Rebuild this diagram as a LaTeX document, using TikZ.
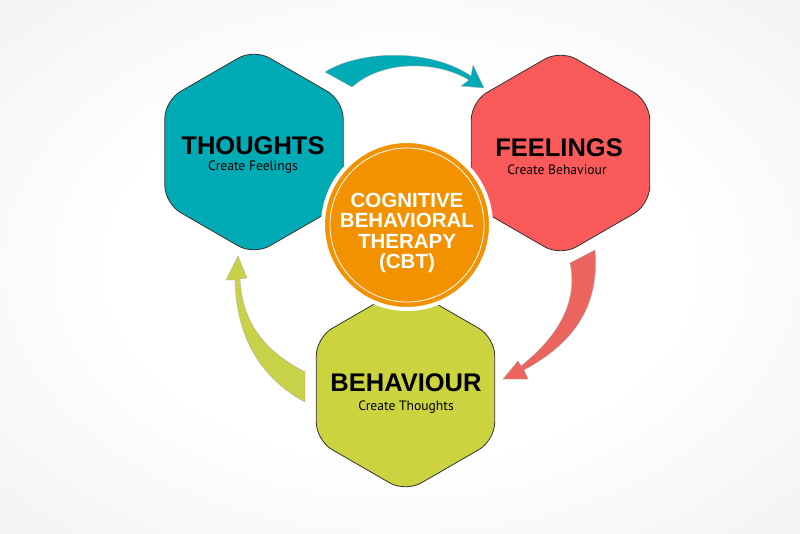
\documentclass[tikz,border=0pt]{standalone}
\usepackage{fontspec}
\setmainfont{Liberation Sans}
\newfontfamily\subfont{PT Sans}
\usetikzlibrary{shapes.geometric}
\definecolor{bgout}{RGB}{230,230,230}
\definecolor{tealc}{RGB}{0,171,181}
\definecolor{feelc}{RGB}{250,90,90}
\definecolor{feelarrow}{RGB}{236,100,94}
\definecolor{behc}{RGB}{203,212,62}
\definecolor{behlarrow}{RGB}{200,210,72}
\definecolor{orangec}{RGB}{243,146,0}
\definecolor{hexline}{RGB}{50,50,50}
\pgfdeclareradialshading{bgshade}{\pgfpoint{0bp}{0bp}}{color(0bp)=(white); color(18bp)=(white); color(55bp)=(bgout); color(75bp)=(bgout)}
\tikzset{
  hexbox/.style={regular polygon, regular polygon sides=6, shape border rotate=90,
    minimum size=206pt, inner sep=0pt, outer sep=0pt, draw=hexline, line width=0.8pt,
    rounded corners=18pt},
  bandarrow/.style={draw=black!35, line width=0.3pt},
  titletext/.style={font=\fontsize{25.5}{27}\selectfont\bfseries, text=black, inner sep=0pt},
  subtext/.style={font=\subfont\fontsize{13.6}{15}\selectfont, text=black, inner sep=0pt},
}
\begin{document}
\begin{tikzpicture}[x=1pt,y=-1pt]
\useasboundingbox (0,0) rectangle (800,533);
\shade[shading=bgshade] (0,0) rectangle (800,533);
% arrows
\fill[tealc, bandarrow] (325,72) .. controls (360,50) and (430,48) .. (471,76)
  -- (473,65) -- (484,88) -- (461,86) -- (469,80)
  .. controls (440,62) and (385,58) .. (352,87) -- cycle;
\fill[feelarrow, bandarrow] (595,250) .. controls (600,310) and (570,345) .. (524,370)
  -- (528,379) -- (503,379) -- (518,361) -- (521,366)
  .. controls (560,335) and (578,300) .. (570,263) -- cycle;
\fill[behlarrow, bandarrow] (305,402) .. controls (255,375) and (236,330) .. (235,280)
  -- (226,280) -- (238,256) -- (247,278) -- (240,279)
  .. controls (242,320) and (262,350) .. (305,372) -- cycle;
% hexagons
\node[hexbox, fill=tealc] (thoughts) at (254,152) {};
\node[hexbox, fill=feelc] (feelings) at (560.5,153) {};
\node[hexbox, fill=behc] (behaviour) at (405.5,389) {};
\node[titletext] (thoughtsT) at (253,146) {THOUGHTS};
\node[subtext] (thoughtsS) at (253,167.5) {Create Feelings};
\node[titletext] (feelingsT) at (559,147.5) {FEELINGS};
\node[subtext] (feelingsS) at (557,169.5) {Create Behaviour};
\node[titletext] (behaviourT) at (406,383) {BEHAVIOUR};
\node[subtext] (behaviourS) at (406,407.5) {Create Thoughts};
% centre circle
\node[circle, fill=orangec, draw=white, line width=4pt, minimum size=168pt, inner sep=0pt] (cbt) at (407,225) {};
\draw[white, line width=0.8pt] (cbt.center) circle (77pt);
\node[font=\fontsize{20.5}{20.5}\selectfont\bfseries, text=white, align=center, inner sep=0pt] (cbtT) at (407,233) {COGNITIVE\\BEHAVIORAL\\THERAPY\\(CBT)};
\end{tikzpicture}
\end{document}
